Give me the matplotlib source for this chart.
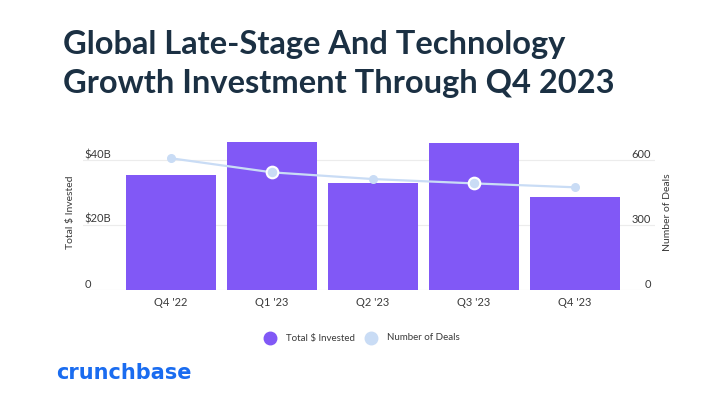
import matplotlib

matplotlib.use("Agg")
import matplotlib.pyplot as plt
import numpy as np

QUARTERS = ["Q4 '22", "Q1 '23", "Q2 '23", "Q3 '23", "Q4 '23"]
INVESTED_B = [35.4, 45.6, 33.0, 45.1, 28.5]  # $B
DEALS = [608, 543, 512, 492, 474]
LEFT_TICKS = [0, 20, 40]
LEFT_LABELS = ["0", "$20B", "$40B"]
RIGHT_TICKS = [0, 300, 600]

PURPLE = "#8158f6"
LIGHT = "#c9dcf5"
NAVY = "#1b3043"
GRID = "#ececec"
TXT = "#3a3a3a"

plt.rcParams["font.family"] = ["Lato", "DejaVu Sans"]

fig = plt.figure(figsize=(7.07, 3.97), dpi=100)
ax = fig.add_axes([83 / 707, 1 - 290 / 397, (655 - 83) / 707, (290 - 134) / 397])
ax2 = ax.twinx()

x = np.arange(len(QUARTERS))
ax.bar(x, INVESTED_B, width=0.9, color=PURPLE, zorder=2)
ax.set_xlim(-0.871, 4.792)
ax.set_ylim(0, 48)
ax.set_yticks(LEFT_TICKS)
ax.set_yticklabels(LEFT_LABELS)
ax.grid(axis="y", color=GRID, linewidth=0.8, zorder=0)
ax.set_axisbelow(True)
ax.set_xticks(x)
ax.set_xticklabels(QUARTERS)
ax.tick_params(axis="x", length=0, pad=5, labelsize=8, labelcolor=TXT)
ax.tick_params(axis="y", length=0, pad=-1, labelsize=8, labelcolor=TXT)
for lab in ax.get_yticklabels():
    lab.set_ha("left")
    lab.set_va("bottom")
for s in ax.spines.values():
    s.set_visible(False)
ax.set_ylabel("Total $ Invested", fontsize=7.5, color=TXT, labelpad=6)

ax2.plot(x, DEALS, color=LIGHT, linewidth=1.6, zorder=3)
big = [1, 3]
small = [0, 2, 4]
ax2.scatter([x[i] for i in small], [DEALS[i] for i in small], s=30, color=LIGHT, zorder=4)
ax2.scatter([x[i] for i in big], [DEALS[i] for i in big], s=70, color=LIGHT,
            edgecolor="white", linewidth=1.5, zorder=4)
ax2.set_ylim(0, 720)
ax2.set_yticks(RIGHT_TICKS)
ax2.tick_params(axis="y", length=0, pad=-3, labelsize=8, labelcolor=TXT)
for lab in ax2.get_yticklabels():
    lab.set_ha("right")
    lab.set_va("bottom")
for s in ax2.spines.values():
    s.set_visible(False)
ax2.set_ylabel("Number of Deals", fontsize=7.5, color=TXT, labelpad=6)

fig.text(63 / 707, 1 - 54 / 397, "Global Late-Stage And Technology",
         fontsize=23.5, fontweight="bold", color=NAVY, va="baseline", ha="left")
fig.text(63 / 707, 1 - 92.5 / 397, "Growth Investment Through Q4 2023",
         fontsize=23.5, fontweight="bold", color=NAVY, va="baseline", ha="left")

# legend
ly = 1 - 338 / 397
fig.add_artist(plt.Line2D([270 / 707], [ly], marker="o", markersize=9, color=PURPLE, transform=fig.transFigure))
fig.text(286 / 707, ly, "Total $ Invested", fontsize=7, color=TXT, va="center")
fig.add_artist(plt.Line2D([371 / 707], [ly], marker="o", markersize=9, color=LIGHT, transform=fig.transFigure))
fig.text(387 / 707, ly, "Number of Deals", fontsize=7, color=TXT, va="center")

fig.text(56 / 707, 1 - 373 / 397, "crunchbase", fontsize=15, fontweight="bold", color="#1a6cf0",
         va="center", ha="left", family="DejaVu Sans")

fig.savefig("out.png", dpi=100)
